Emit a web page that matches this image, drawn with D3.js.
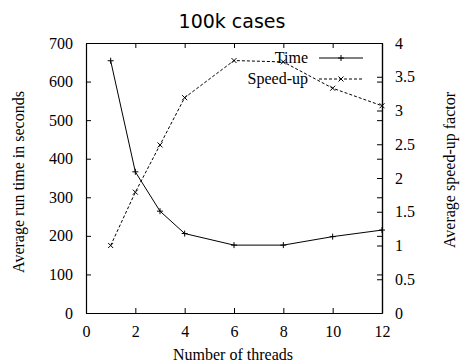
<!DOCTYPE html>
<html>
<head>
<meta charset="utf-8">
<script src="https://cdn.jsdelivr.net/npm/d3@7"></script>
<style>
  body { margin: 0; background: #fff; }
  svg { display: block; }
  .tk text { font-family: "Liberation Serif", serif; font-size: 16px; fill: #000; }
</style>
</head>
<body>
<div id="chart"></div>
<script>
var threads = [1, 2, 3, 4, 6, 8, 10, 12];
var timeSec = [654, 366, 264, 206, 176, 176, 198, 215];
var speedUp = [1.0, 1.79, 2.49, 3.19, 3.74, 3.72, 3.33, 3.07];
var xTicks = [0, 2, 4, 6, 8, 10, 12];
var yTicks = [0, 100, 200, 300, 400, 500, 600, 700];
var y2Ticks = [0, 0.5, 1, 1.5, 2, 2.5, 3, 3.5, 4];

var width = 464, height = 364;
var m = {left: 86, right: 82, top: 43, bottom: 51};

var svg = d3.select('#chart').append('svg')
  .attr('width', width).attr('height', height);

var x = d3.scaleLinear().domain([0, 12]).range([m.left, width - m.right]);
var y = d3.scaleLinear().domain([0, 700]).range([height - m.bottom, m.top]);
var y2 = d3.scaleLinear().domain([0, 4]).range([height - m.bottom, m.top]);

var tl = 5;
// bottom & top
svg.append('g').attr('class', 'tk')
  .attr('transform', 'translate(0,' + (height - m.bottom) + ')')
  .call(d3.axisBottom(x).tickValues(xTicks).tickSizeInner(-tl).tickSizeOuter(0).tickPadding(13));
svg.append('g').attr('class', 'tk')
  .attr('transform', 'translate(0,' + m.top + ')')
  .call(d3.axisTop(x).tickValues(xTicks).tickSizeInner(-tl).tickSizeOuter(0).tickFormat(''));
// left
svg.append('g').attr('class', 'tk')
  .attr('transform', 'translate(' + m.left + ',0)')
  .call(d3.axisLeft(y).tickValues(yTicks).tickSizeInner(-tl).tickSizeOuter(0).tickPadding(13));
// right: y mirror + y2
svg.append('g').attr('class', 'tk')
  .attr('transform', 'translate(' + (width - m.right) + ',0)')
  .call(d3.axisRight(y).tickValues(yTicks).tickSizeInner(-tl).tickSizeOuter(0).tickFormat(''));
svg.append('g').attr('class', 'tk')
  .attr('transform', 'translate(' + (width - m.right) + ',0)')
  .call(d3.axisRight(y2).tickValues(y2Ticks).tickSizeInner(-tl).tickSizeOuter(0).tickPadding(13)
    .tickFormat(d3.format('')));

svg.selectAll('.tk .domain').attr('stroke', '#000').attr('stroke-width', 1.2);
svg.selectAll('.tk line').attr('stroke', '#000');

var timeData = threads.map(function(t, i) { return [t, timeSec[i]]; });
var speedData = threads.map(function(t, i) { return [t, speedUp[i]]; });

svg.append('path')
  .attr('d', d3.line().x(function(d) { return x(d[0]); }).y(function(d) { return y(d[1]); })(timeData))
  .attr('fill', 'none').attr('stroke', '#000').attr('stroke-width', 1);
svg.append('path')
  .attr('d', d3.line().x(function(d) { return x(d[0]); }).y(function(d) { return y2(d[1]); })(speedData))
  .attr('fill', 'none').attr('stroke', '#000').attr('stroke-width', 1).attr('stroke-dasharray', '3,2');

var ms = 3;
function plus(g, cx, cy) {
  g.append('path').attr('d', 'M' + (cx - ms) + ',' + cy + 'h' + (2 * ms) + 'M' + cx + ',' + (cy - ms) + 'v' + (2 * ms))
    .attr('stroke', '#000').attr('stroke-width', 1);
}
function cross(g, cx, cy) {
  var s = ms - 0.5;
  g.append('path').attr('d', 'M' + (cx - s) + ',' + (cy - s) + 'l' + (2 * s) + ',' + (2 * s) + 'M' + (cx - s) + ',' + (cy + s) + 'l' + (2 * s) + ',' + (-2 * s))
    .attr('stroke', '#000').attr('stroke-width', 1);
}
var mk = svg.append('g');
timeData.forEach(function(d) { plus(mk, x(d[0]), y(d[1])); });
speedData.forEach(function(d) { cross(mk, x(d[0]), y2(d[1])); });

// legend
var lg = svg.append('g');
var lx0 = 319, lx1 = 363, ly = [58, 79];
var names = ['Time', 'Speed-up'];
names.forEach(function(n, i) {
  lg.append('text').attr('x', 308).attr('y', ly[i] + 5).attr('text-anchor', 'end')
    .style('font-family', '"Liberation Serif", serif').style('font-size', '16px').text(n);
  var l = lg.append('line').attr('x1', lx0).attr('x2', lx1).attr('y1', ly[i]).attr('y2', ly[i])
    .attr('stroke', '#000').attr('stroke-width', 1);
  if (i === 1) l.attr('stroke-dasharray', '3,2');
  if (i === 0) plus(lg, (lx0 + lx1) / 2, ly[i]); else cross(lg, (lx0 + lx1) / 2, ly[i]);
});

// titles
svg.append('text').attr('x', 232).attr('y', 28).attr('text-anchor', 'middle')
  .style('font-family', '"DejaVu Sans", sans-serif').style('font-size', '19px').text('100k cases');
svg.append('text').attr('x', 233).attr('y', 360).attr('text-anchor', 'middle')
  .style('font-family', '"Liberation Serif", serif').style('font-size', '16px').text('Number of threads');
svg.append('text').attr('transform', 'translate(24,182) rotate(-90)')
  .attr('text-anchor', 'middle')
  .style('font-family', '"Liberation Serif", serif').style('font-size', '16px').text('Average run time in seconds');
svg.append('text').attr('transform', 'translate(455,170) rotate(-90)')
  .attr('text-anchor', 'middle')
  .style('font-family', '"Liberation Serif", serif').style('font-size', '16px').text('Average speed-up factor');
</script>
</body>
</html>
